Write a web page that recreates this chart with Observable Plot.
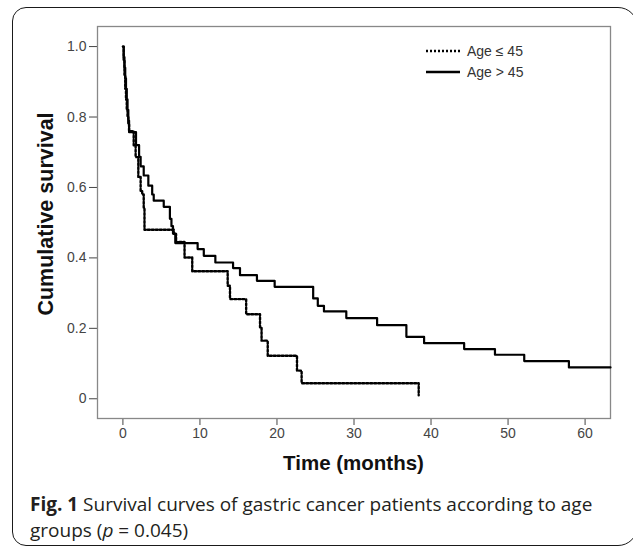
<!DOCTYPE html>
<html>
<head>
<meta charset="utf-8">
<script src="https://cdn.jsdelivr.net/npm/d3@7"></script>
<script src="https://cdn.jsdelivr.net/npm/@observablehq/plot@0.6"></script>
<style>
  html, body { margin: 0; padding: 0; background: #fff; }
  #wrap { position: relative; width: 633px; height: 553px; overflow: hidden; background: #fff; }
  #chart { position: absolute; left: 0; top: 0; }
  #border { position: absolute; left: 12px; top: 7px; width: 626px; height: 539px; box-sizing: border-box;
            border: 1.6px solid #1a1a1a; border-radius: 14px 20px 20px 14px; pointer-events: none; }
  #caption { position: absolute; left: 30px; top: 491px; width: 590px; font-family: "Open Sans", sans-serif;
             font-size: 19px; line-height: 26px; color: #231f20; }
  #caption div { white-space: nowrap; }
  #caption b { font-weight: 700; }
</style>
</head>
<body>
<div id="wrap">
  <div id="chart"></div>
  <div id="border"></div>
  <div id="caption">
    <div><b>Fig. 1</b> Survival curves of gastric cancer patients according to age</div>
    <div>groups (<i>p</i> = 0.045)</div>
  </div>
</div>
<script>
// Age ≤ 45 (dotted)
const youngTimes = [0, 0.1, 0.2, 0.3, 0.4, 0.5, 0.6, 0.7, 0.8, 1.4, 1.65, 2.0, 2.3, 2.5, 2.7, 2.8, 6.6, 6.9, 8.0, 9.0, 13.6, 13.9, 16.0, 17.8, 18.0, 18.8, 22.6, 23.2, 38.4];
const youngSurv  = [1.0, 0.96, 0.92, 0.88, 0.85, 0.82, 0.80, 0.78, 0.76, 0.72, 0.686, 0.63, 0.59, 0.58, 0.543, 0.48, 0.468, 0.445, 0.401, 0.362, 0.321, 0.283, 0.24, 0.203, 0.165, 0.122, 0.08, 0.044, 0.01];
// Age > 45 (solid)
const oldTimes = [0, 0.1, 0.2, 0.3, 0.4, 0.5, 0.6, 0.7, 0.8, 1.7, 2.1, 2.3, 2.7, 3.3, 3.8, 4.0, 5.3, 6.1, 6.3, 6.5, 6.8, 9.7, 10.5, 12.0, 14.3, 15.2, 17.4, 19.7, 24.7, 25.3, 26.1, 29.0, 33.0, 36.8, 39.1, 44.3, 48.3, 52.1, 57.9, 63.3];
const oldSurv  = [1.0, 0.97, 0.94, 0.91, 0.88, 0.85, 0.82, 0.79, 0.757, 0.72, 0.687, 0.66, 0.634, 0.605, 0.58, 0.5625, 0.545, 0.511, 0.49, 0.469, 0.442, 0.425, 0.406, 0.387, 0.371, 0.351, 0.335, 0.318, 0.285, 0.264, 0.248, 0.229, 0.209, 0.176, 0.158, 0.141, 0.125, 0.107, 0.089, 0.089];

const xTicks = [0, 10, 20, 30, 40, 50, 60];
const yTicks = [0, 0.2, 0.4, 0.6, 0.8, 1.0];
const seriesNames = ["Age ≤ 45", "Age > 45"];
const xTitle = "Time (months)";
const yTitle = "Cumulative survival";

const young = youngTimes.map((t, i) => ({t, s: youngSurv[i]}));
const old = oldTimes.map((t, i) => ({t, s: oldSurv[i]}));

const W = 633, H = 480;
const DOT = "2,2";
const plot = Plot.plot({
  width: W, height: H,
  marginLeft: 97, marginRight: 23, marginTop: 26, marginBottom: 62,
  style: {fontFamily: "'Liberation Sans', Arial, sans-serif", fontSize: "14px", color: "#444", background: "transparent"},
  x: {domain: [-3.3, 63.3], ticks: xTicks, tickSize: 7, tickPadding: 3, label: null},
  y: {domain: [-0.056, 1.057], ticks: yTicks, tickSize: 8, tickPadding: 3, label: null,
      tickFormat: d => d === 0 ? "0" : d.toFixed(1)},
  marks: [
    Plot.frame({stroke: "#888", strokeWidth: 1.3}),
    Plot.line(young, {x: "t", y: "s", curve: "step-after", stroke: "#000", strokeWidth: 2.4, strokeDasharray: DOT}),
    Plot.line(old, {x: "t", y: "s", curve: "step-after", stroke: "#000", strokeWidth: 2.2})
  ]
});
document.getElementById("chart").appendChild(plot);

const svg = d3.select(plot);
const FF = "'Liberation Sans', Arial, sans-serif";
// axis titles
svg.append("text").attr("transform", "translate(47,214) rotate(-90)")
  .attr("text-anchor", "middle").attr("dominant-baseline", "middle")
  .style("font-family", FF).style("font-weight", "bold")
  .style("font-size", "21.5px").attr("fill", "#111").text(yTitle);
svg.append("text").attr("x", 353.5).attr("y", 470)
  .attr("text-anchor", "middle")
  .style("font-family", FF).style("font-weight", "bold")
  .style("font-size", "20.5px").attr("fill", "#111").text(xTitle);
// legend
const leg = svg.append("g").style("font-family", FF).style("font-size", "14px").attr("text-anchor", "start");
[[51, DOT], [72, null]].forEach(([y, dash], i) => {
  const l = leg.append("line").attr("x1", 426).attr("x2", 460).attr("y1", y).attr("y2", y)
    .attr("stroke", "#000").attr("stroke-width", 2.3);
  if (dash) l.attr("stroke-dasharray", dash);
  leg.append("text").attr("x", 467).attr("y", y + 5).attr("fill", "#333").attr("text-anchor", "start").text(seriesNames[i]);
});
</script>
</body>
</html>
